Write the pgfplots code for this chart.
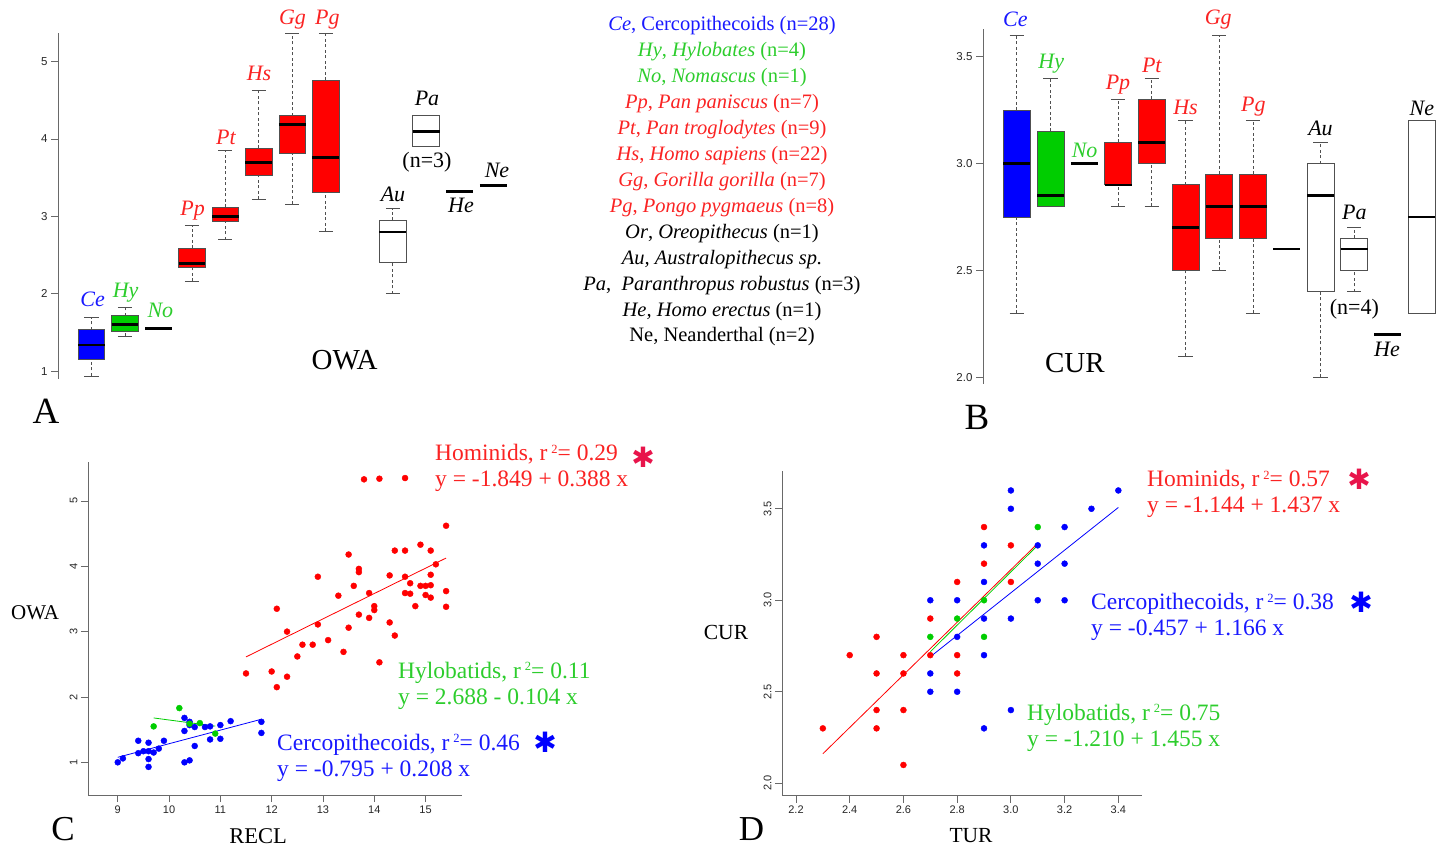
\documentclass[border=0pt]{standalone}
\usepackage{pgfplots}
\pgfplotsset{compat=1.18}
\usepgfplotslibrary{statistics}
\usepackage{graphicx}
\usepackage{fontspec}
\setmainfont{Liberation Serif}
\newfontfamily\sansf{Liberation Sans}
\newfontfamily\symf{DejaVu Sans Bold}
\definecolor{tblue}{RGB}{25,25,255}
\definecolor{tgreen}{RGB}{45,205,45}
\definecolor{tred}{RGB}{250,35,35}
\definecolor{fblue}{RGB}{0,0,255}
\definecolor{fgreen}{RGB}{0,205,0}
\definecolor{fred}{RGB}{255,0,0}
\definecolor{star}{RGB}{232,20,75}
\definecolor{axgray}{RGB}{105,105,105}
\definecolor{boxgray}{RGB}{80,80,80}
\newcommand\fs[1]{\fontsize{#1}{#1}\selectfont}
\newcommand\PP[2]{(#1pt,{(849-#2)*1pt})}
\newcommand\rsq[1]{r\hspace{4pt}\raisebox{7.5pt}{\fs{12.5}2}= #1}

\pgfplotsset{
  mybox/.style={
    boxplot/draw direction=y,
    boxplot/box extend=0.8,
    boxplot/whisker extend=0.42,
    boxplot/every box/.style={draw=boxgray, line width=0.9pt},
    boxplot/every median/.style={draw=black, line width=2.8pt},
    boxplot/draw/lower whisker/.code={%
      \draw[boxgray, line width=0.8pt, dash pattern=on 3pt off 2.5pt]
        (boxplot box cs:\pgfplotsboxplotvalue{lower whisker},0.5) --
        (boxplot box cs:\pgfplotsboxplotvalue{lower quartile},0.5);
      \draw[boxgray, line width=0.8pt]
        (boxplot whisker cs:\pgfplotsboxplotvalue{lower whisker},0) --
        (boxplot whisker cs:\pgfplotsboxplotvalue{lower whisker},1);
    },
    boxplot/draw/upper whisker/.code={%
      \draw[boxgray, line width=0.8pt, dash pattern=on 3pt off 2.5pt]
        (boxplot box cs:\pgfplotsboxplotvalue{upper quartile},0.5) --
        (boxplot box cs:\pgfplotsboxplotvalue{upper whisker},0.5);
      \draw[boxgray, line width=0.8pt]
        (boxplot whisker cs:\pgfplotsboxplotvalue{upper whisker},0) --
        (boxplot whisker cs:\pgfplotsboxplotvalue{upper whisker},1);
    },
  },
  common/.style={
    anchor=south west, scale only axis, clip=false,
    axis line style={axgray, line width=0.8pt},
    tick style={axgray, line width=0.8pt},
    major tick length=7pt, tick align=outside,
    tick label style={font=\sansf\fs{11.5}, text=black!85},
    /pgf/number format/assume math mode=true,
  },
  single/.style={black, line width=2.8pt},
}

\begin{document}
\begin{tikzpicture}
\path[use as bounding box] (0,0) rectangle (1445pt,849pt);

% ---------------- Panel A ----------------
\begin{axis}[common, mybox, at={(58pt,470pt)}, width=452pt, height=346pt,
  xmin=0, xmax=13.5, ymin=0.9, ymax=5.37,
  axis x line=none, axis y line*=left, ytick={1,2,3,4,5}]
\addplot[boxplot/every box/.append style={fill=fblue}, boxplot prepared={draw position=1, lower whisker=0.94, lower quartile=1.15, median=1.34, upper quartile=1.535, upper whisker=1.69}] coordinates {};
\addplot[boxplot/every box/.append style={fill=fgreen}, boxplot prepared={draw position=2, lower whisker=1.45, lower quartile=1.52, median=1.60, upper quartile=1.715, upper whisker=1.83}] coordinates {};
\addplot[single] coordinates {(2.6,1.55) (3.4,1.55)};
\addplot[boxplot/every box/.append style={fill=fred}, boxplot prepared={draw position=4, lower whisker=2.16, lower quartile=2.34, median=2.39, upper quartile=2.59, upper whisker=2.88}] coordinates {};
\addplot[boxplot/every box/.append style={fill=fred}, boxplot prepared={draw position=5, lower whisker=2.70, lower quartile=2.94, median=3.00, upper quartile=3.12, upper whisker=3.85}] coordinates {};
\addplot[boxplot/every box/.append style={fill=fred}, boxplot prepared={draw position=6, lower whisker=3.22, lower quartile=3.53, median=3.70, upper quartile=3.88, upper whisker=4.63}] coordinates {};
\addplot[boxplot/every box/.append style={fill=fred}, boxplot prepared={draw position=7, lower whisker=3.16, lower quartile=3.81, median=4.19, upper quartile=4.30, upper whisker=5.37}] coordinates {};
\addplot[boxplot/every box/.append style={fill=fred}, boxplot prepared={draw position=8, lower whisker=2.81, lower quartile=3.31, median=3.76, upper quartile=4.76, upper whisker=5.36}] coordinates {};
\addplot[boxplot/every box/.append style={fill=white}, boxplot prepared={draw position=10, lower whisker=2.00, lower quartile=2.40, median=2.80, upper quartile=2.95, upper whisker=3.10}] coordinates {};
\addplot[boxplot/every box/.append style={fill=white}, boxplot prepared={draw position=11, lower whisker=3.90, lower quartile=3.90, median=4.10, upper quartile=4.30, upper whisker=4.30}] coordinates {};
\addplot[single] coordinates {(11.6,3.32) (12.4,3.32)};
\addplot[single] coordinates {(12.6,3.40) (13.4,3.40)};
\end{axis}

% ---------------- Panel B ----------------
\begin{axis}[common, mybox, at={(983pt,465pt)}, width=455.6pt, height=354.7pt,
  xmin=0, xmax=13.5, ymin=1.969, ymax=3.628,
  axis x line=none, axis y line*=left, ytick={2,2.5,3,3.5},
  yticklabel style={/pgf/number format/.cd, fixed, fixed zerofill, precision=1}]
\addplot[boxplot/every box/.append style={fill=fblue}, boxplot prepared={draw position=1, lower whisker=2.30, lower quartile=2.75, median=3.00, upper quartile=3.25, upper whisker=3.60}] coordinates {};
\addplot[boxplot/every box/.append style={fill=fgreen}, boxplot prepared={draw position=2, lower whisker=2.80, lower quartile=2.80, median=2.85, upper quartile=3.15, upper whisker=3.40}] coordinates {};
\addplot[single] coordinates {(2.6,3.0) (3.4,3.0)};
\addplot[boxplot/every box/.append style={fill=fred}, boxplot prepared={draw position=4, lower whisker=2.80, lower quartile=2.90, median=2.90, upper quartile=3.10, upper whisker=3.30}] coordinates {};
\addplot[boxplot/every box/.append style={fill=fred}, boxplot prepared={draw position=5, lower whisker=2.80, lower quartile=3.00, median=3.10, upper quartile=3.30, upper whisker=3.40}] coordinates {};
\addplot[boxplot/every box/.append style={fill=fred}, boxplot prepared={draw position=6, lower whisker=2.10, lower quartile=2.50, median=2.70, upper quartile=2.90, upper whisker=3.20}] coordinates {};
\addplot[boxplot/every box/.append style={fill=fred}, boxplot prepared={draw position=7, lower whisker=2.50, lower quartile=2.65, median=2.80, upper quartile=2.95, upper whisker=3.60}] coordinates {};
\addplot[boxplot/every box/.append style={fill=fred}, boxplot prepared={draw position=8, lower whisker=2.30, lower quartile=2.65, median=2.80, upper quartile=2.95, upper whisker=3.20}] coordinates {};
\addplot[single] coordinates {(8.6,2.6) (9.4,2.6)};
\addplot[boxplot/every box/.append style={fill=white}, boxplot prepared={draw position=10, lower whisker=2.00, lower quartile=2.40, median=2.85, upper quartile=3.00, upper whisker=3.10}] coordinates {};
\addplot[boxplot/every box/.append style={fill=white}, boxplot prepared={draw position=11, lower whisker=2.40, lower quartile=2.50, median=2.60, upper quartile=2.65, upper whisker=2.70}] coordinates {};
\addplot[single] coordinates {(11.6,2.2) (12.4,2.2)};
\addplot[boxplot/every box/.append style={fill=white}, boxplot prepared={draw position=13, lower whisker=2.30, lower quartile=2.30, median=2.75, upper quartile=3.20, upper whisker=3.20}] coordinates {};
\end{axis}

% ---------------- Panel C ----------------
\begin{axis}[common, at={(88pt,54pt)}, width=374pt, height=333.3pt,
  xmin=8.42, xmax=15.71, ymin=0.5, ymax=5.6,
  axis x line*=bottom, axis y line*=left,
  xtick={9,10,11,12,13,14,15}, ytick={1,2,3,4,5},
  tick label style={font=\sansf\fs{11}},
  yticklabel style={rotate=90, anchor=south}]
\addplot[only marks, mark=*, mark size=3pt, fblue] coordinates {
(9.0,1.00) (9.1,1.06) (9.4,1.33) (9.4,1.14) (9.5,1.17) (9.6,1.30) (9.6,1.17) (9.6,1.05)
(9.6,0.93) (9.7,1.15) (9.8,1.21) (9.9,1.33) (10.3,1.68) (10.3,1.48) (10.3,1.00) (10.4,1.03)
(10.4,1.62) (10.5,1.54) (10.5,1.25) (10.7,1.54) (10.8,1.55) (10.8,1.35) (11.0,1.57) (11.0,1.36)
(11.2,1.63) (11.8,1.62) (11.8,1.45) (10.4,1.57)};
\addplot[only marks, mark=*, mark size=3pt, fgreen] coordinates {
(9.7,1.55) (10.2,1.83) (10.4,1.59) (10.6,1.60) (10.9,1.44)};
\addplot[only marks, mark=*, mark size=3pt, fred] coordinates {
(11.5,2.36) (12.0,2.39) (12.1,3.35) (12.1,2.15) (12.3,3.00) (12.3,2.31) (12.5,2.62) (12.6,2.80)
(12.8,2.80) (12.9,3.84) (12.9,3.11) (13.1,2.87) (13.3,3.55) (13.4,2.69) (13.5,4.18) (13.5,3.06)
(13.6,3.70) (13.7,3.96) (13.7,3.91) (13.7,3.26) (13.8,5.33) (13.9,3.59) (13.9,3.21) (14.0,3.39)
(14.0,3.33) (14.1,5.34) (14.1,2.53) (14.3,3.86) (14.3,3.14) (14.4,4.24) (14.4,2.94) (14.6,5.35)
(14.6,4.24) (14.6,3.84) (14.6,3.59) (14.7,3.74) (14.7,3.58) (14.8,3.39) (14.9,4.33) (14.9,3.70)
(15.0,3.70) (15.0,3.56) (15.1,4.24) (15.1,3.87) (15.1,3.71) (15.1,3.52) (15.2,4.03) (15.4,4.62)
(15.4,3.62) (15.4,3.38)};
\addplot[fred, line width=0.8pt] coordinates {(11.5,2.613) (15.4,4.126)};
\addplot[fblue, line width=0.8pt] coordinates {(9.0,1.077) (11.8,1.659)};
\addplot[fgreen, line width=0.8pt] coordinates {(9.7,1.679) (10.9,1.554)};
\end{axis}

% ---------------- Panel D ----------------
\begin{axis}[common, at={(782pt,53.3pt)}, width=359.7pt, height=325pt,
  xmin=2.148, xmax=3.487, ymin=1.932, ymax=3.708,
  axis x line*=bottom, axis y line*=left,
  xtick={2.2,2.4,2.6,2.8,3.0,3.2,3.4}, ytick={2,2.5,3,3.5},
  tick label style={font=\sansf\fs{11}},
  xticklabel style={/pgf/number format/.cd, fixed, fixed zerofill, precision=1},
  yticklabel style={rotate=90, anchor=south, /pgf/number format/.cd, fixed, fixed zerofill, precision=1}]
\addplot[only marks, mark=*, mark size=3pt, fred] coordinates {
(2.3,2.3) (2.4,2.7) (2.5,2.8) (2.5,2.6) (2.5,2.4) (2.5,2.3) (2.6,2.7) (2.6,2.6) (2.6,2.4) (2.6,2.1)
(2.7,2.9) (2.7,2.7) (2.8,3.1) (2.8,2.7) (2.8,2.6) (2.9,3.4) (2.9,3.2) (3.0,3.3) (3.0,3.1)};
\addplot[only marks, mark=*, mark size=3pt, fblue] coordinates {
(2.7,3.0) (2.7,2.6) (2.7,2.5) (2.8,3.0) (2.8,2.8) (2.8,2.5) (2.9,3.3) (2.9,3.1) (2.9,2.9) (2.9,2.7)
(2.9,2.3) (3.0,3.6) (3.0,3.5) (3.0,2.9) (3.0,2.4) (3.1,3.3) (3.1,3.2) (3.1,3.0) (3.2,3.4) (3.2,3.2)
(3.2,3.0) (3.3,3.5) (3.4,3.6)};
\addplot[only marks, mark=*, mark size=3pt, fgreen] coordinates {
(2.7,2.8) (2.8,2.9) (2.9,3.0) (2.9,2.8) (3.1,3.4)};
\addplot[fred, line width=0.8pt] coordinates {(2.3,2.161) (3.1,3.311)};
\addplot[fblue, line width=0.8pt] coordinates {(2.7,2.691) (3.4,3.507)};
\addplot[fgreen, line width=0.8pt] coordinates {(2.7,2.7185) (3.1,3.3005)};
\end{axis}

% ---------------- Text: panel A ----------------
\begin{scope}[every node/.style={anchor=base, inner sep=0pt, font=\itshape\fs{22}}]
\node[text=tblue]  at \PP{92.6}{306.7} {Ce};
\node[text=tgreen] at \PP{125.6}{297.7} {Hy};
\node[text=tgreen] at \PP{160.4}{318} {No};
\node[text=tred]   at \PP{192.7}{216} {Pp};
\node[text=tred]   at \PP{226}{145} {Pt};
\node[text=tred]   at \PP{259}{81} {Hs};
\node[text=tred]   at \PP{292.5}{25} {Gg};
\node[text=tred]   at \PP{327.4}{25} {Pg};
\node at \PP{393}{201.7} {Au};
\node at \PP{427}{106} {Pa};
\node[font=\upshape\fs{22}] at \PP{427}{168} {(n=3)};
\node at \PP{461}{212.7} {He};
\node at \PP{497}{177.7} {Ne};
% panel B
\node[text=tblue]  at \PP{1015.3}{26.7} {Ce};
\node[text=tgreen] at \PP{1051.2}{68.3} {Hy};
\node[text=tgreen] at \PP{1084.6}{157.3} {No};
\node[text=tred]   at \PP{1118}{90} {Pp};
\node[text=tred]   at \PP{1151.8}{72.3} {Pt};
\node[text=tred]   at \PP{1185.5}{115} {Hs};
\node[text=tred]   at \PP{1218.2}{25} {Gg};
\node[text=tred]   at \PP{1253.4}{111.7} {Pg};
\node at \PP{1320.5}{135.7} {Au};
\node at \PP{1354.3}{220} {Pa};
\node[font=\upshape\fs{22}] at \PP{1354.3}{315} {(n=4)};
\node at \PP{1387}{356.7} {He};
\node at \PP{1421.8}{115.7} {Ne};
\end{scope}

\begin{scope}[every node/.style={anchor=base, inner sep=0pt}]
\node[font=\fs{29}] at \PP{344.6}{369.3} {OWA};
\node[font=\fs{29}] at \PP{1074.8}{372.3} {CUR};
\node[font=\fs{37}] at \PP{46}{423.3} {A};
\node[font=\fs{37}] at \PP{977}{430} {B};
\node[font=\fs{35}] at \PP{63}{840.5} {C};
\node[font=\fs{35}] at \PP{751.6}{840.5} {D};
\node[font=\fs{21}] at \PP{35}{620} {OWA};
\node[font=\fs{22.5}] at \PP{258}{843.5} {RECL};
\node[font=\fs{21.5}] at \PP{726}{640} {CUR};
\node[font=\fs{21.5}] at \PP{971}{842} {TUR};
\end{scope}

% legend list
\begin{scope}[every node/.style={anchor=base, inner sep=0pt, font=\fs{20.5}}]
\node[text=tblue]  at \PP{722}{31} {\textit{Ce}, Cercopithecoids (n=28)};
\node[text=tgreen] at \PP{722}{57} {\textit{Hy}, \textit{Hylobates} (n=4)};
\node[text=tgreen] at \PP{722}{83} {\textit{No}, \textit{Nomascus} (n=1)};
\node[text=tred]   at \PP{722}{109} {\textit{Pp}, \textit{Pan paniscus} (n=7)};
\node[text=tred]   at \PP{722}{135} {\textit{Pt}, \textit{Pan troglodytes} (n=9)};
\node[text=tred]   at \PP{722}{161} {\textit{Hs}, \textit{Homo sapiens} (n=22)};
\node[text=tred]   at \PP{722}{187} {\textit{Gg}, \textit{Gorilla gorilla} (n=7)};
\node[text=tred]   at \PP{722}{213} {\textit{Pg}, \textit{Pongo pygmaeus} (n=8)};
\node at \PP{722}{239} {\textit{Or}, \textit{Oreopithecus} (n=1)};
\node at \PP{722}{265} {\textit{Au, Australopithecus sp.}};
\node at \PP{722}{290.5} {\textit{Pa}, \ \textit{Paranthropus robustus} (n=3)};
\node at \PP{722}{316.5} {\textit{He, Homo erectus} (n=1)};
\node at \PP{722}{342} {Ne, Neanderthal (n=2)};
\end{scope}

% regression annotations
\begin{scope}[every node/.style={anchor=base west, inner sep=0pt, font=\fs{23.5}}]
\node[text=tred]   at \PP{435}{461} {Hominids, \rsq{0.29}};
\node[text=tred]   at \PP{435}{487} {y = -1.849 + 0.388 x};
\node[text=tgreen] at \PP{398}{678} {Hylobatids, \rsq{0.11}};
\node[text=tgreen] at \PP{398}{704} {y = 2.688 - 0.104 x};
\node[text=tblue]  at \PP{277}{750} {Cercopithecoids, \rsq{0.46}};
\node[text=tblue]  at \PP{277}{776} {y = -0.795 + 0.208 x};
\node[text=tred]   at \PP{1147}{487} {Hominids, \rsq{0.57}};
\node[text=tred]   at \PP{1147}{513} {y = -1.144 + 1.437 x};
\node[text=tblue]  at \PP{1091}{610} {Cercopithecoids, \rsq{0.38}};
\node[text=tblue]  at \PP{1091}{636} {y = -0.457 + 1.166 x};
\node[text=tgreen] at \PP{1027}{720} {Hylobatids, \rsq{0.75}};
\node[text=tgreen] at \PP{1027}{746} {y = -1.210 + 1.455 x};
\end{scope}
\begin{scope}[every node/.style={anchor=center, inner sep=0pt, font=\symf\fs{28}}]
\node[text=star]  at \PP{643}{457} {✱};
\node[text=fblue] at \PP{545}{742} {✱};
\node[text=star]  at \PP{1359}{479} {✱};
\node[text=fblue] at \PP{1361}{602} {✱};
\end{scope}
\end{tikzpicture}
\end{document}
